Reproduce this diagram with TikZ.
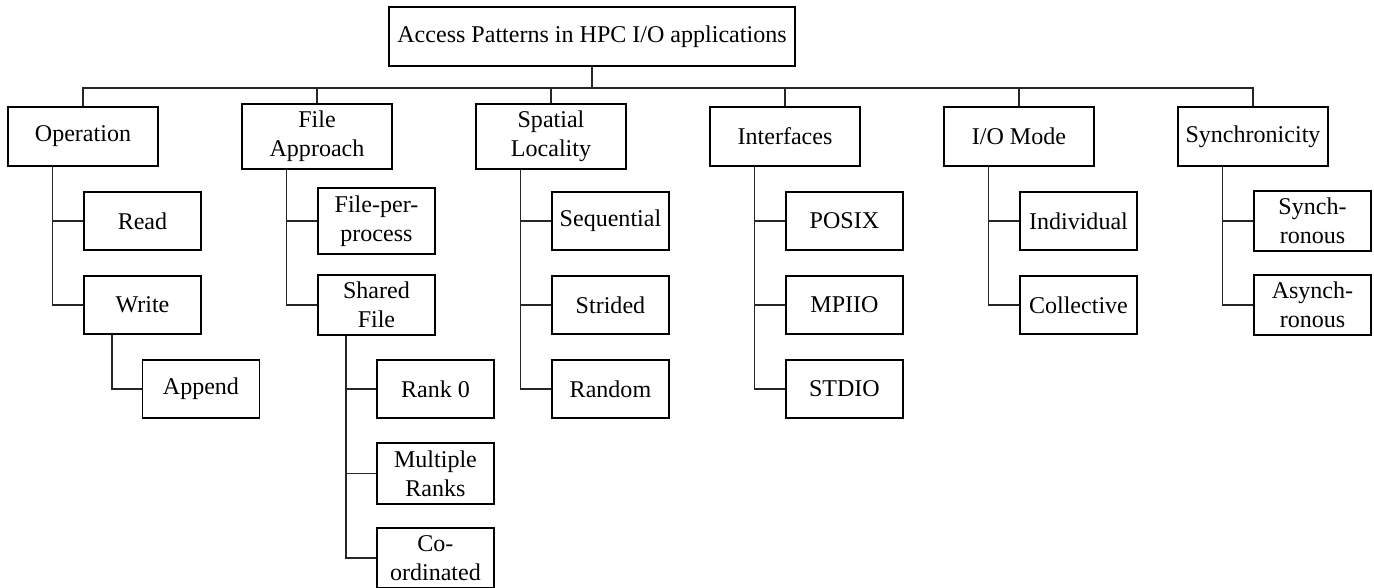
\documentclass[tikz,border=0pt]{standalone}
\usepackage{fontspec}
\setmainfont{Liberation Serif}
\begin{document}
\begin{tikzpicture}[x=0.416pt, y=-0.416pt,
  box/.style={draw, line width=0.8pt, align=center, inner xsep=2pt, inner ysep=3.1pt,
    font=\fontsize{10}{12}\selectfont},
  rootbox/.style={box, minimum width=406*0.416pt, minimum height=59*0.416pt},
  catbox/.style={box, minimum width=150*0.416pt, minimum height=59*0.416pt},
  leafbox/.style={box, anchor=west, minimum width=117*0.416pt, minimum height=58*0.416pt},
  link/.style={line width=0.6pt, black!85}]
\useasboundingbox (0,0) rectangle (1374,588);

% root
\node[rootbox] (root) at (592,36.5) {Access Patterns in HPC I/O applications};

% categories
\node[catbox] (op)   at (83,136.5)   {Operation};
\node[catbox] (fa)   at (317,136.5)  {File\\Approach};
\node[catbox] (sl)   at (551,136.5)  {Spatial\\Locality};
\node[catbox] (ifc)  at (785,136.5)  {Interfaces};
\node[catbox] (iom)  at (1019,136.5) {I/O Mode};
\node[catbox] (sync) at (1253,136.5) {Synchronicity};

% leaves (left edge on the parent's centre line)
\node[leafbox] (read)  at (83,221)  {Read};
\node[leafbox] (write) at (83,305)  {Write};
\node[leafbox] (app)   at (141.5,389) {Append};

\node[leafbox] (fpp)   at (317,221) {File-per-\\process};
\node[leafbox] (shf)   at (317,305) {Shared\\File};
\node[leafbox] (r0)    at (376,389) {Rank 0};
\node[leafbox] (mr)    at (376,473.5) {Multiple\\Ranks};
\node[leafbox] (coord) at (376,558) {Co-\\ordinated};

\node[leafbox] (seq)   at (551,221) {Sequential};
\node[leafbox] (str)   at (551,305) {Strided};
\node[leafbox] (rnd)   at (551,389) {Random};

\node[leafbox] (posix) at (785,221) {POSIX};
\node[leafbox] (mpiio) at (785,305) {MPIIO};
\node[leafbox] (stdio) at (785,389) {STDIO};

\node[leafbox] (indiv) at (1019,221) {Individual};
\node[leafbox] (coll)  at (1019,305) {Collective};

\node[leafbox] (syn)   at (1253,221) {Synch-\\ronous};
\node[leafbox] (asyn)  at (1253,305) {Asynch-\\ronous};

% root to categories
\foreach \c in {op,fa,sl,ifc,iom,sync}
  \draw[link] (root.south) -- ++(0,21) -| (\c.north);

% category trunks to leaves
\foreach \p/\c in {op/read,op/write,write/app,
                   fa/fpp,fa/shf,shf/r0,shf/mr,shf/coord,
                   sl/seq,sl/str,sl/rnd,
                   ifc/posix,ifc/mpiio,ifc/stdio,
                   iom/indiv,iom/coll,
                   sync/syn,sync/asyn}
  \draw[link] (\p.south) ++(-30.5,0) |- (\c.west);
\end{tikzpicture}
\end{document}
